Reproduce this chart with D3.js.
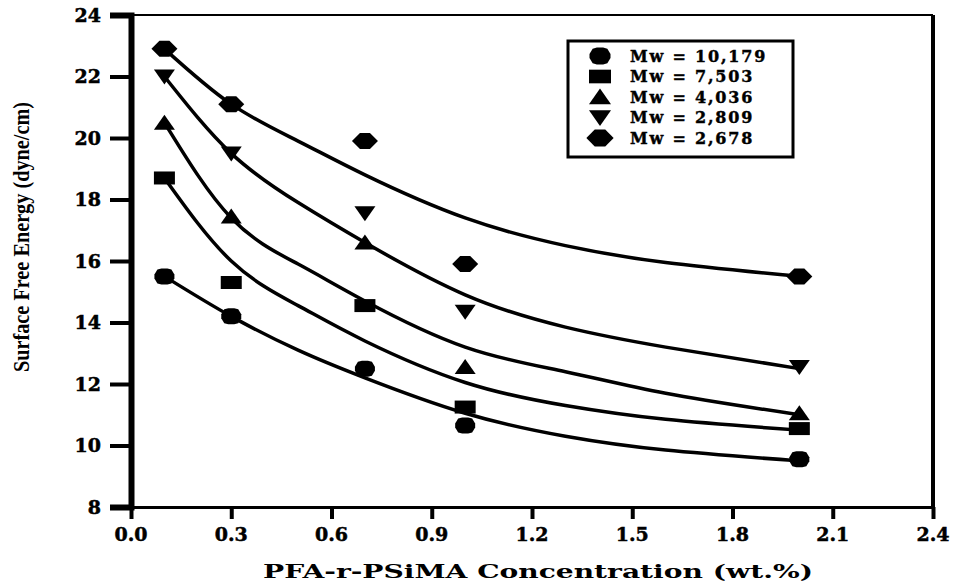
<!DOCTYPE html>
<meta charset="utf-8">
<style>
body { margin: 0; background: #fff; }
</style>
<svg width="953" height="583"></svg>
<script src="https://d3js.org/d3.v7.min.js"></script>
<script>
// measured concentrations (wt.%)
var conc = [0.1, 0.3, 0.7, 1.0, 2.0];
// surface free energy for each Mw
var mw10179 = [15.5, 14.2, 12.5, 10.65, 9.55];
var mw7503  = [18.7, 15.3, 14.55, 11.25, 10.55];
var mw4036  = [20.5, 17.45, 16.6, 12.55, 11.05];
var mw2809  = [22.0, 19.5, 17.55, 14.35, 12.55];
var mw2678  = [22.9, 21.1, 19.9, 15.9, 15.5];

// fitted trend curves
var fitConc = [0.1, 0.3, 0.5, 0.7, 1.0, 1.3, 1.6, 2.0];
var fit10179 = [15.5, 14.2, 13.1, 12.2, 11.05, 10.3, 9.85, 9.5];
var fit7503  = [18.7, 16.0, 14.55, 13.4, 12.05, 11.3, 10.85, 10.5];
var fit4036  = [20.5, 17.4, 15.9, 14.7, 13.2, 12.4, 11.7, 11.0];
var fit2809  = [22.0, 19.5, 17.9, 16.6, 14.9, 13.85, 13.2, 12.5];
var fit2678  = [22.9, 21.1, 19.9, 18.8, 17.4, 16.5, 15.95, 15.5];

var labels = ["Mw = 10,179", "Mw = 7,503", "Mw = 4,036", "Mw = 2,809", "Mw = 2,678"];
var shapes = ["circle", "square", "up", "down", "diamond"];
var xTicks = [0.0, 0.3, 0.6, 0.9, 1.2, 1.5, 1.8, 2.1, 2.4];
var yTicks = [8, 10, 12, 14, 16, 18, 20, 22, 24];

var series = [
    {label: labels[0], shape: shapes[0], y: mw10179, fit: fit10179},
    {label: labels[1], shape: shapes[1], y: mw7503, fit: fit7503},
    {label: labels[2], shape: shapes[2], y: mw4036, fit: fit4036},
    {label: labels[3], shape: shapes[3], y: mw2809, fit: fit2809},
    {label: labels[4], shape: shapes[4], y: mw2678, fit: fit2678}
];

var svg = d3.select("svg");
var x = d3.scaleLinear().domain([0, 2.4]).range([131, 933]);
var y = d3.scaleLinear().domain([8, 24]).range([507, 15]);

// marker shapes
function marker(shape, s) {
    s = s || 1;
    var p;
    switch (shape) {
        case "circle":
            p = [[-10, -2], [-7, -7], [-3, -8], [3, -8], [7, -7], [10, -2], [10, 2], [7, 7], [3, 8], [-3, 8], [-7, 7], [-10, 2]];
            break;
        case "square":
            p = [[-10.5, -6.5], [10.5, -6.5], [10.5, 6.5], [-10.5, 6.5]];
            break;
        case "up":
            p = [[0, -8], [10.5, 7], [-10.5, 7]];
            break;
        case "down":
            p = [[-10.5, -7], [10.5, -7], [0, 8]];
            break;
        case "diamond":
            p = [[-13, 0], [-5, -8], [5, -8], [13, 0], [5, 8], [-5, 8]];
            break;
    }
    return "M" + p.map(function(q) { return (q[0] * s) + "," + (q[1] * s); }).join("L") + "Z";
}

// frame
svg.append("line").attr("x1", x(0)).attr("x2", x(2.4)).attr("y1", y(24)).attr("y2", y(24))
    .attr("stroke", "#000").attr("stroke-width", 2);
svg.append("line").attr("x1", x(2.4)).attr("x2", x(2.4)).attr("y1", y(24)).attr("y2", y(8))
    .attr("stroke", "#000").attr("stroke-width", 4);

// axes (lines and ticks)
var xAxis = svg.append("g")
    .attr("transform", "translate(0," + y(8) + ")")
    .call(d3.axisBottom(x).tickValues(xTicks).tickFormat("").tickSize(12));
xAxis.select(".domain").attr("stroke-width", 3);
xAxis.selectAll(".tick line").attr("stroke-width", 4);

var yAxis = svg.append("g")
    .attr("transform", "translate(" + x(0) + ",0)")
    .call(d3.axisLeft(y).tickValues(yTicks).tickFormat("").tickSize(21));
yAxis.select(".domain").attr("stroke-width", 6);
yAxis.selectAll(".tick line").attr("stroke-width", 4);

// tick labels
var tickFont = svg.append("g")
    .attr("font-family", "DejaVu Serif, serif")
    .attr("font-weight", "bold")
    .attr("font-size", 19)
    .attr("stroke", "#000")
    .attr("stroke-width", 0.5);
tickFont.selectAll(".xl")
    .data(xTicks)
    .enter().append("text")
        .attr("x", function(d) { return x(d); })
        .attr("y", 534)
        .attr("dy", "0.36em")
        .attr("text-anchor", "middle")
        .text(d3.format(".1f"));
tickFont.selectAll(".yl")
    .data(yTicks)
    .enter().append("text")
        .attr("x", 101)
        .attr("y", function(d) { return y(d); })
        .attr("dy", "0.36em")
        .attr("text-anchor", "end")
        .text(function(d) { return d; });

// fitted curves
var line = d3.line()
    .x(function(d, i) { return x(fitConc[i]); })
    .y(function(d) { return y(d); })
    .curve(d3.curveNatural);

svg.selectAll(".fit")
    .data(series)
    .enter().append("path")
        .attr("class", "fit")
        .attr("d", function(d) { return line(d.fit); })
        .attr("fill", "none")
        .attr("stroke", "#000")
        .attr("stroke-width", 3.5);

// points
series.forEach(function(s) {
    svg.selectAll(null)
        .data(s.y)
        .enter().append("path")
            .attr("d", marker(s.shape))
            .attr("transform", function(d, i) {
                return "translate(" + x(conc[i]) + "," + y(d) + ")";
            })
            .attr("fill", "#000");
});

// legend
var legend = svg.append("g")
    .attr("font-family", "DejaVu Serif, serif")
    .attr("font-weight", "bold")
    .attr("font-size", 16);
legend.append("rect")
    .attr("x", 568).attr("y", 41).attr("width", 225).attr("height", 116)
    .attr("fill", "#fff").attr("stroke", "#000").attr("stroke-width", 3);
var item = legend.selectAll(".item")
    .data(series)
    .enter().append("g")
        .attr("class", "item")
        .attr("transform", function(d, i) {
            return "translate(0," + (56 + i * 20.5) + ")";
        });
item.append("path")
    .attr("d", function(d) { return marker(d.shape, 1.05); })
    .attr("transform", "translate(600,0)")
    .attr("fill", "#000");
item.append("text")
    .attr("x", 630)
    .attr("dy", "0.36em")
    .attr("letter-spacing", 1.8)
    .attr("stroke", "#000")
    .attr("stroke-width", 0.4)
    .text(function(d) { return d.label; });

// axis titles
svg.append("text")
    .attr("x", 538).attr("y", 578)
    .attr("text-anchor", "middle")
    .attr("font-family", "DejaVu Serif, serif")
    .attr("font-weight", "bold")
    .attr("font-size", 18)
    .attr("textLength", 550)
    .attr("lengthAdjust", "spacingAndGlyphs")
    .text("PFA-r-PSiMA Concentration (wt.%)");

svg.append("text")
    .attr("transform", "translate(29,237) rotate(-90)")
    .attr("text-anchor", "middle")
    .attr("font-family", "Liberation Serif, serif")
    .attr("font-weight", "bold")
    .attr("font-size", 24)
    .attr("textLength", 270)
    .attr("lengthAdjust", "spacingAndGlyphs")
    .text("Surface Free Energy (dyne/cm)");
</script>
